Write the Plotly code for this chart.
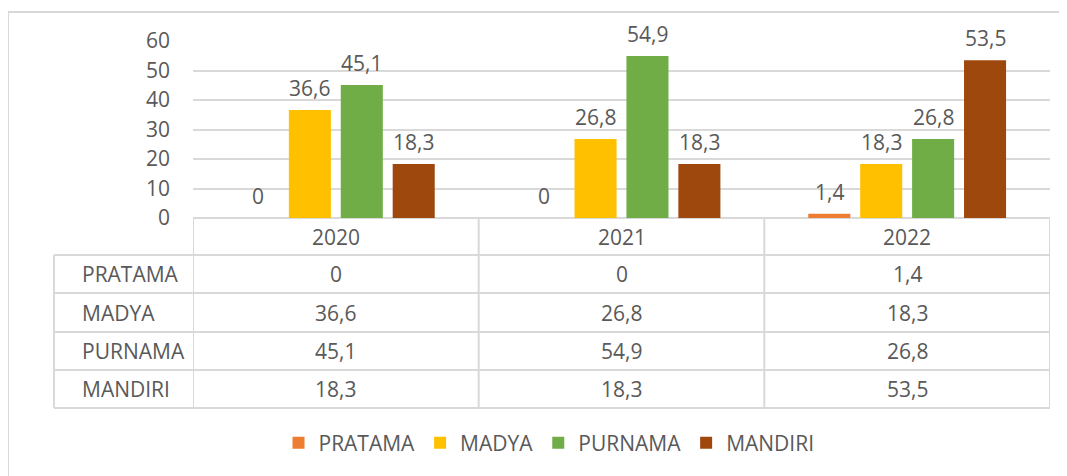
import plotly.graph_objects as go

# ---------------- data ----------------
years = ["2020", "2021", "2022"]
series_names = ["PRATAMA", "MADYA", "PURNAMA", "MANDIRI"]
pratama = [0, 0, 1.4]
madya = [36.6, 26.8, 18.3]
purnama = [45.1, 54.9, 26.8]
mandiri = [18.3, 18.3, 53.5]
y_ticks = [0, 10, 20, 30, 40, 50, 60]

colors = ["#ED7D31", "#FFC000", "#70AD47", "#9E480E"]
all_values = [pratama, madya, purnama, mandiri]

FONT = "Open Sans"
TXT = "#595959"
GRID = "#d9d9d9"
FS = 21

# ---------------- layout geometry (window pixels) ----------------
OFF = 8  # default page body margin
WIN_W, WIN_H = 1067, 476
FIG_W, FIG_H = WIN_W - OFF, WIN_H - OFF
L, R, T, B = 193, 1050, 41, 218
W, H = R - L, B - T
BARGAP = 0.273
BARGROUPGAP = 0.19


def px(x):
    return (x - L) / W


def py(y):
    return (B - y) / H


def fmt(v):
    return ("%g" % v).replace(".", ",")


fig = go.Figure()
for name, vals, c in zip(series_names, all_values, colors):
    fig.add_trace(go.Bar(x=years, y=vals, name=name, marker_color=c,
                         marker_line_width=0, hoverinfo="skip"))

annotations = []
shapes = []

# data labels above bars
slot = (W / len(years)) * (1 - BARGAP) / len(series_names)
for i, vals in enumerate(all_values):
    off = (i - (len(series_names) - 1) / 2) * slot
    for j, v in enumerate(vals):
        annotations.append(dict(x=j, y=v, xref="x", yref="y", text=fmt(v),
                                showarrow=False, yanchor="bottom", xshift=off,
                                yshift=6, font=dict(family=FONT, size=FS, color=TXT)))

# ---------------- data table ----------------
line_style = dict(color=GRID, width=2)
row_lines = [255, 293, 332, 370, 408]
TBL_L = 54
for yy in row_lines:
    shapes.append(dict(type="line", xref="paper", yref="paper", x0=px(TBL_L), x1=1,
                       y0=py(yy), y1=py(yy), line=line_style, layer="above"))
shapes.append(dict(type="line", xref="paper", yref="paper", x0=px(TBL_L), x1=px(TBL_L),
                   y0=py(row_lines[0]), y1=py(row_lines[-1]), line=line_style))
for k in range(len(years) + 1):
    shapes.append(dict(type="line", xref="x", yref="paper", x0=k - 0.5, x1=k - 0.5,
                       y0=0, y1=py(row_lines[-1]), line=line_style))

# header row (years)
for j, yr in enumerate(years):
    annotations.append(dict(x=j, y=py((B + row_lines[0]) / 2), xref="x", yref="paper",
                            text=yr, showarrow=False, yanchor="middle",
                            font=dict(family=FONT, size=FS, color=TXT)))
# rows
for r, (name, vals) in enumerate(zip(series_names, all_values)):
    yc = (row_lines[r] + row_lines[r + 1]) / 2
    annotations.append(dict(x=px(80), y=py(yc), xref="paper", yref="paper", text=name,
                            showarrow=False, xanchor="left", yanchor="middle",
                            font=dict(family=FONT, size=FS, color=TXT)))
    for j, v in enumerate(vals):
        annotations.append(dict(x=j, y=py(yc), xref="x", yref="paper", text=fmt(v),
                                showarrow=False, yanchor="middle",
                                font=dict(family=FONT, size=FS, color=TXT)))

# outer chart border (left + top)
shapes.append(dict(type="line", xref="paper", yref="paper", x0=px(8), x1=px(8),
                   y0=py(12), y1=py(WIN_H + 5), line=line_style))
shapes.append(dict(type="line", xref="paper", yref="paper", x0=px(8), x1=px(WIN_W + 5),
                   y0=py(12), y1=py(12), line=line_style))

fig.update_layout(
    width=FIG_W, height=FIG_H,
    margin=dict(l=L - OFF, r=WIN_W - R, t=T - OFF, b=WIN_H - B, pad=0),
    paper_bgcolor="white", plot_bgcolor="white",
    barmode="group", bargap=BARGAP, bargroupgap=BARGROUPGAP,
    font=dict(family=FONT, size=FS, color=TXT),
    showlegend=True,
    legend=dict(orientation="h", x=px(549), xanchor="center", y=py(443), yanchor="middle",
                font=dict(family=FONT, size=FS, color=TXT), itemwidth=30,
                traceorder="normal", bgcolor="rgba(0,0,0,0)"),
    xaxis=dict(type="category", showticklabels=False, showgrid=False, zeroline=False,
               showline=False, ticks="", range=[-0.5, len(years) - 0.5], fixedrange=True),
    yaxis=dict(range=[0, 60], tickvals=y_ticks, showgrid=True, gridcolor=GRID, gridwidth=2,
               zeroline=True, zerolinecolor=GRID, zerolinewidth=2, ticks="",
               ticklabelstandoff=22, tickfont=dict(family=FONT, size=FS, color=TXT),
               showline=False, fixedrange=True),
    annotations=annotations,
    shapes=shapes,
)

fig.write_html("out.html")
